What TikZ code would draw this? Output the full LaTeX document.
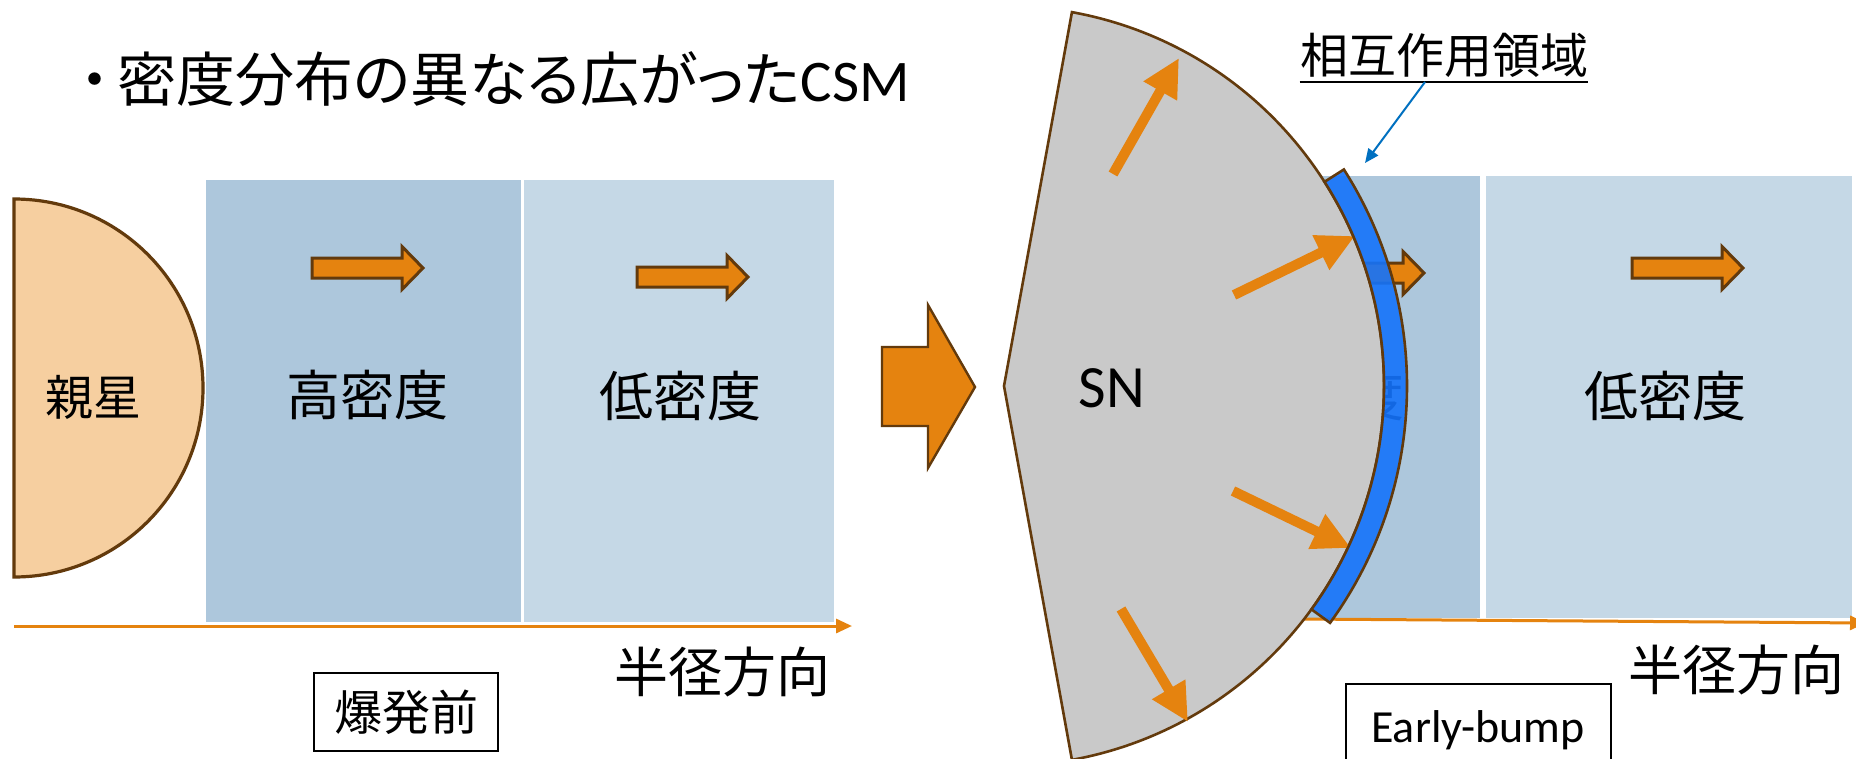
\documentclass[tikz,border=0pt]{standalone}
\usepackage{fontspec}
\setmainfont{Carlito}
\newfontfamily\jp{Noto Sans CJK JP}
\newfontfamily\jpp[RawFeature=+palt]{Noto Sans CJK JP}
\usetikzlibrary{arrows.meta,calc}
\definecolor{peach}{HTML}{F6CFA0}
\definecolor{brn}{HTML}{633A0C}
\definecolor{org}{HTML}{E5830F}
\definecolor{hiblue}{HTML}{ADC7DC}
\definecolor{loblue}{HTML}{C5D8E6}
\definecolor{sngray}{HTML}{C9C9C9}
\definecolor{bandblue}{HTML}{1473FB}
\definecolor{callblue}{HTML}{0070C0}
\begin{document}
\begin{tikzpicture}[x=0.5pt,y=-0.5pt,
  jt/.style={font=\jp\fontsize{27pt}{30pt}\selectfont, inner sep=0pt},
  jts/.style={font=\jp\fontsize{24pt}{28pt}\selectfont, inner sep=0pt},
  blk/.style={fill=org, draw=brn, line width=1.5pt, line join=miter},
  rad/.style={draw=org, line width=5pt, -{Triangle[length=19pt,width=18pt]}},
  axisline/.style={draw=org, line width=1.5pt, -{Triangle[length=8pt,width=7pt]}},
  boxed/.style={draw=black, line width=1pt},
  smallarrow/.pic={\path[blk] (0,-10) -- (90,-10) -- (90,-21.5) -- (111,0) -- (90,21.5) -- (90,10) -- (0,10) -- cycle;}
]
\useasboundingbox (0,0) rectangle (1856,759);
\clip (0,0) rectangle (1856,759);
\fill[white] (0,0) rectangle (1856,759);

% title
\node[font=\jpp\fontsize{29.5pt}{34pt}\selectfont, inner sep=0pt, anchor=west] (title) at (80,79) {・\hspace{4pt}密度分布の異なる広がった{\rmfamily CSM}};

% ---- left: before explosion
\fill[hiblue] (206,180) rectangle (521,622);
\fill[loblue] (524,180) rectangle (834,622);
\draw[axisline] (14,626) -- (852,626);
\path[fill=peach, draw=brn, line width=1.6pt] (14,199) arc[start angle=-90, end angle=90, radius=189] -- cycle;
\node[jts] (oya) at (93,397) {親星};
\pic at (312,268) {smallarrow};
\pic at (637,277) {smallarrow};
\node[jt] (hi1) at (367,395) {高密度};
\node[jt] (lo1) at (680,396) {低密度};
\node[jt] (rad1) at (722,672) {半径方向};
\node[boxed, jts, minimum width=92pt, minimum height=39pt] (pre) at (406,712) {爆発前};

% middle block arrow
\path[blk, line width=1.2pt] (882,347) -- (928,347) -- (928,305) -- (975,387) -- (928,468) -- (928,426) -- (882,426) -- cycle;

% ---- right: early bump
\fill[hiblue] (1165,176) rectangle (1480,618);
\fill[loblue] (1486,176) rectangle (1852,618);
\node[jt] (hi2) at (1323,396) {高密度};
\pic at (1313,273) {smallarrow};
\pic at (1632,268) {smallarrow};
\node[jt] (lo2) at (1665,396) {低密度};
\draw[axisline] (1160,618) -- (1866,623);
\node[jt] (rad2) at (1736,670) {半径方向};
\node[boxed, anchor=north, minimum width=132.5pt, minimum height=46pt, font=\fontsize{23pt}{26pt}\selectfont] (eb) at (1478,683) {Early-bump};

% SN sector
\coordinate (snc) at (1004,386);
\path[fill=sngray, draw=brn, line width=1.3pt] (snc) -- ++(-79.7:380) arc[start angle=-79.7, end angle=79.7, radius=380] -- cycle;
\node[font=\fontsize{30pt}{34pt}\selectfont, inner sep=0pt] (sn) at (1112,388) {SN};

\coordinate (a1s) at (1113,174); \coordinate (a1e) at (1179,58);
\coordinate (a2s) at (1234,295); \coordinate (a2e) at (1355,236);
\coordinate (a3s) at (1233,491); \coordinate (a3e) at (1351,548);
\coordinate (a4s) at (1121,609); \coordinate (a4e) at (1188,722);
\draw[rad] (a1s) -- (a1e);
\draw[rad] (a2s) -- (a2e);
\draw[rad] (a3s) -- (a3e);
\draw[rad] (a4s) -- (a4e);

% interaction band
\path[fill=bandblue, fill opacity=0.9, draw=brn, line width=1.3pt]
  ($(snc)+(-32.5:403)$) arc[start angle=-32.5, end angle=36, radius=403]
  -- ($(snc)+(36:380)$) arc[start angle=36, end angle=-32.5, radius=380] -- cycle;

% callout
\node[jts] (lab) at (1444,55) {相互作用領域};
\draw[line width=1pt] ([yshift=-2pt]lab.south west) -- ([yshift=-2pt]lab.south east);
\coordinate (cst) at (1425,82);
\coordinate (ctip) at (1365,163);
\draw[callblue, line width=1pt, -{Triangle[length=7pt,width=6pt]}] (cst) -- (ctip);
\end{tikzpicture}
\end{document}
